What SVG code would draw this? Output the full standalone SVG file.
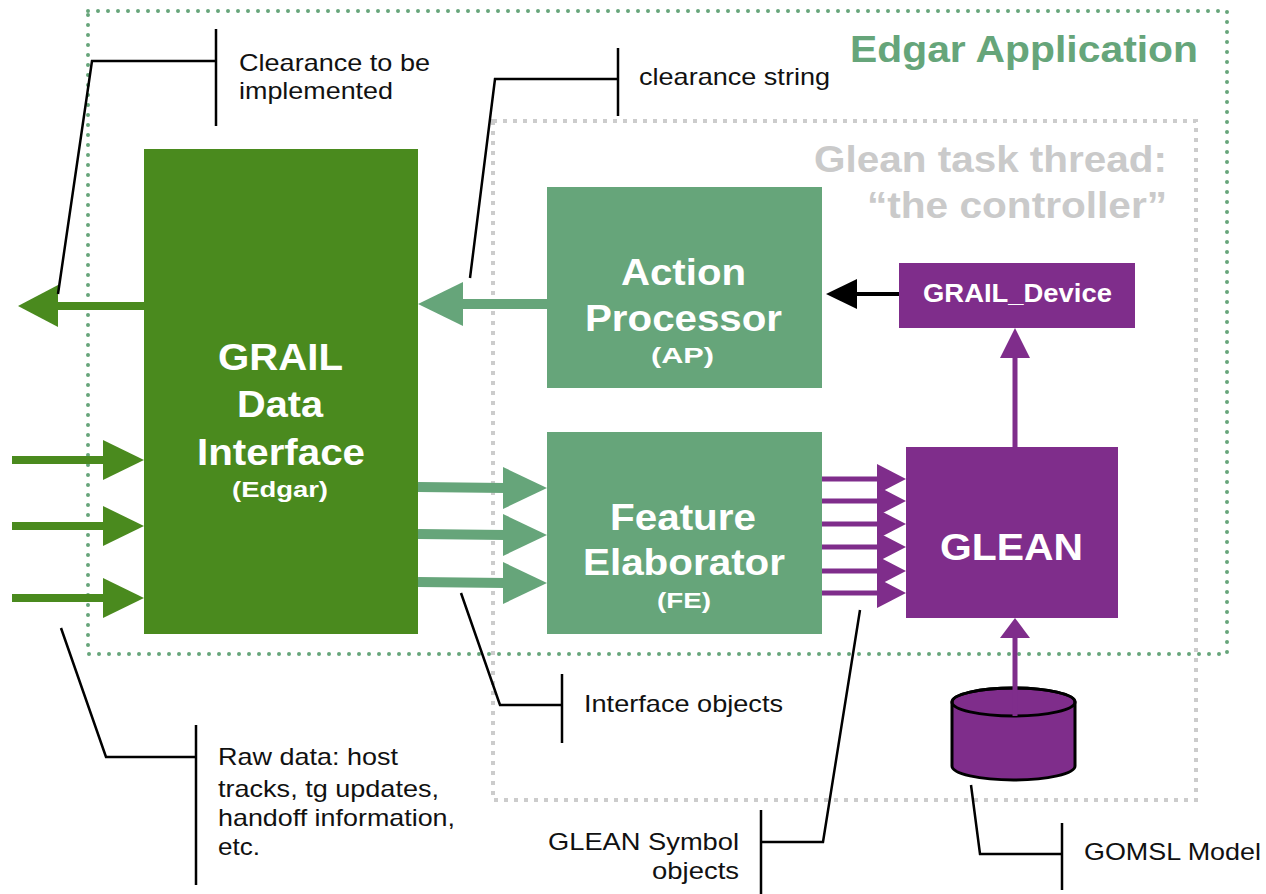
<svg xmlns="http://www.w3.org/2000/svg" width="1266" height="894" viewBox="0 0 1266 894">
  <style>
    .bg { fill: #ffffff; }
    .dg { fill: #4a8a1e; }
    .lg { fill: #66a57a; }
    .pu { fill: #7f2d8b; }
    .dgl { stroke: #4a8a1e; stroke-width: 8; fill: none; }
    .lgl { stroke: #66a57a; stroke-width: 10; fill: none; }
    .pul { stroke: #7f2d8b; stroke-width: 5; fill: none; }
    .bkl { stroke: #000000; stroke-width: 4; fill: none; }
    .co { stroke: #000000; stroke-width: 2.5; fill: none; stroke-linejoin: miter; }
    .frame-app { fill: none; stroke: #66a57a; stroke-width: 4; stroke-dasharray: 0 10; stroke-linecap: round; }
    .frame-task { fill: none; stroke: #cccccc; stroke-width: 4; stroke-dasharray: 4 6; }
    .big { font-family: "Liberation Sans", Arial, sans-serif; font-weight: bold; font-size: 37px; fill: #ffffff; }
    .sub { font-family: "Liberation Sans", Arial, sans-serif; font-weight: bold; font-size: 22px; fill: #ffffff; }
    .lbl { font-family: "Liberation Sans", Arial, sans-serif; font-size: 24px; fill: #111111; }
    .title-app { font-family: "Liberation Sans", Arial, sans-serif; font-weight: bold; font-size: 37px; fill: #66a57a; }
    .title-task { font-family: "Liberation Sans", Arial, sans-serif; font-weight: bold; font-size: 37px; fill: #cacaca; }
  </style>

  <rect class="bg" x="0" y="0" width="1266" height="894"/>

  <!-- frames -->
  <g id="edgar-application">
    <rect class="frame-app" x="88" y="11" width="1139" height="643"/>
    <text class="title-app" x="850" y="62" textLength="348" lengthAdjust="spacingAndGlyphs">Edgar Application</text>
  </g>
  <g id="glean-task-thread">
    <rect class="frame-task" x="493" y="121" width="703" height="679"/>
    <text class="title-task" x="814" y="172" textLength="353" lengthAdjust="spacingAndGlyphs">Glean task thread:</text>
    <text class="title-task" x="867" y="218" textLength="300" lengthAdjust="spacingAndGlyphs">“the controller”</text>
  </g>

  <!-- connectors -->
  <g id="connectors">
    <!-- raw data inputs -->
    <line class="dgl" x1="12" y1="460" x2="106" y2="460"/>
    <polygon class="dg" points="103,440 144,460 103,480"/>
    <line class="dgl" x1="12" y1="526" x2="106" y2="526"/>
    <polygon class="dg" points="103,506 144,526 103,546"/>
    <line class="dgl" x1="12" y1="598" x2="106" y2="598"/>
    <polygon class="dg" points="103,578 144,598 103,618"/>

    <!-- clearance output -->
    <line class="dgl" x1="144" y1="306" x2="55" y2="306"/>
    <polygon class="dg" points="58,285 18,306 58,327"/>

    <!-- AP to GRAIL Data Interface -->
    <line class="lgl" x1="547" y1="304" x2="460" y2="304"/>
    <polygon class="lg" points="463,282 418,304 463,326"/>

    <!-- GRAIL Data Interface to FE -->
    <line class="lgl" x1="418" y1="487" x2="506" y2="488"/>
    <polygon class="lg" points="503,467 547,488 503,509"/>
    <line class="lgl" x1="418" y1="534" x2="506" y2="535"/>
    <polygon class="lg" points="503,514 547,535 503,556"/>
    <line class="lgl" x1="418" y1="582" x2="506" y2="583"/>
    <polygon class="lg" points="503,562 547,583 503,604"/>

    <!-- FE to GLEAN symbol objects -->
    <line class="pul" x1="822" y1="479" x2="880" y2="479"/>
    <polygon class="pu" points="877,464 906,479 877,494"/>
    <line class="pul" x1="822" y1="501" x2="880" y2="501"/>
    <polygon class="pu" points="877,486 906,501 877,516"/>
    <line class="pul" x1="822" y1="524" x2="880" y2="524"/>
    <polygon class="pu" points="877,509 906,524 877,539"/>
    <line class="pul" x1="822" y1="547" x2="880" y2="547"/>
    <polygon class="pu" points="877,532 906,547 877,562"/>
    <line class="pul" x1="822" y1="571" x2="880" y2="571"/>
    <polygon class="pu" points="877,556 906,571 877,586"/>
    <line class="pul" x1="822" y1="593" x2="880" y2="593"/>
    <polygon class="pu" points="877,578 906,593 877,608"/>

    <!-- GLEAN to GRAIL_Device -->
    <line class="pul" x1="1015" y1="447" x2="1015" y2="355"/>
    <polygon class="pu" points="1000,358 1015,328 1030,358"/>

    <!-- GRAIL_Device to AP -->
    <line class="bkl" x1="899" y1="294" x2="852" y2="294"/>
    <polygon fill="#000000" points="857,279 826,294 857,309"/>

    <!-- callouts -->
    <path class="co" d="M58,294 L92,61 L216,61 M216,29 L216,126"/>
    <path class="co" d="M470,278 L495,79 L618,79 M618,48 L618,116"/>
    <path class="co" d="M61,628 L106,757 L196,757 M196,725 L196,885"/>
    <path class="co" d="M461,593 L500,705 L562,705 M562,674 L562,743"/>
    <path class="co" d="M860,610 L823,842 L761,842 M761,810 L761,894"/>
    <path class="co" d="M971,785 L980,854 L1062,854 M1062,823 L1062,890"/>
  </g>

  <!-- nodes -->
  <g id="grail-data-interface">
    <rect class="dg" x="144" y="149" width="274" height="485"/>
    <text class="big" x="218" y="370" textLength="125" lengthAdjust="spacingAndGlyphs">GRAIL</text>
    <text class="big" x="237" y="417" textLength="86" lengthAdjust="spacingAndGlyphs">Data</text>
    <text class="big" x="197" y="465" textLength="168" lengthAdjust="spacingAndGlyphs">Interface</text>
    <text class="sub" x="232" y="497" textLength="96" lengthAdjust="spacingAndGlyphs">(Edgar)</text>
  </g>

  <g id="action-processor">
    <rect class="lg" x="547" y="187" width="275" height="201"/>
    <text class="big" x="621" y="285" textLength="125" lengthAdjust="spacingAndGlyphs">Action</text>
    <text class="big" x="585" y="331" textLength="197" lengthAdjust="spacingAndGlyphs">Processor</text>
    <text class="sub" x="651" y="363" textLength="63" lengthAdjust="spacingAndGlyphs">(AP)</text>
  </g>

  <g id="feature-elaborator">
    <rect class="lg" x="547" y="432" width="275" height="202"/>
    <text class="big" x="610" y="530" textLength="146" lengthAdjust="spacingAndGlyphs">Feature</text>
    <text class="big" x="583" y="575" textLength="202" lengthAdjust="spacingAndGlyphs">Elaborator</text>
    <text class="sub" x="657" y="608" textLength="54" lengthAdjust="spacingAndGlyphs">(FE)</text>
  </g>

  <g id="grail-device">
    <rect class="pu" x="899" y="263" width="236" height="65"/>
    <text class="big" style="font-size:25px" x="923" y="302" textLength="189" lengthAdjust="spacingAndGlyphs">GRAIL_Device</text>
  </g>

  <g id="glean">
    <rect class="pu" x="906" y="447" width="212" height="171"/>
    <text class="big" x="940" y="560" textLength="143" lengthAdjust="spacingAndGlyphs">GLEAN</text>
  </g>

  <g id="gomsl-model">
    <path class="pu" stroke="#000000" stroke-width="3" d="M952,702 L952,766 A61.5,14 0 0 0 1075,766 L1075,702 A61.5,14 0 0 0 952,702 Z"/>
    <ellipse cx="1013.5" cy="702" rx="61.5" ry="14" fill="none" stroke="#000000" stroke-width="3"/>
    <!-- feed into GLEAN -->
    <line class="pul" x1="1015" y1="716" x2="1015" y2="636"/>
    <polygon class="pu" points="1000,638 1015,618 1030,638"/>
  </g>

  <!-- callout labels -->
  <g id="labels">
    <text class="lbl" x="239" y="71" textLength="191" lengthAdjust="spacingAndGlyphs">Clearance to be</text>
    <text class="lbl" x="239" y="99" textLength="154" lengthAdjust="spacingAndGlyphs">implemented</text>
    <text class="lbl" x="639" y="85" textLength="191" lengthAdjust="spacingAndGlyphs">clearance string</text>
    <text class="lbl" x="584" y="712" textLength="199" lengthAdjust="spacingAndGlyphs">Interface objects</text>
    <text class="lbl" x="218" y="765" textLength="180" lengthAdjust="spacingAndGlyphs">Raw data: host</text>
    <text class="lbl" x="218" y="797" textLength="221" lengthAdjust="spacingAndGlyphs">tracks, tg updates,</text>
    <text class="lbl" x="218" y="826" textLength="237" lengthAdjust="spacingAndGlyphs">handoff information,</text>
    <text class="lbl" x="218" y="855" textLength="42" lengthAdjust="spacingAndGlyphs">etc.</text>
    <text class="lbl" x="548" y="850" textLength="191" lengthAdjust="spacingAndGlyphs">GLEAN Symbol</text>
    <text class="lbl" x="652" y="879" textLength="87" lengthAdjust="spacingAndGlyphs">objects</text>
    <text class="lbl" x="1084" y="860" textLength="177" lengthAdjust="spacingAndGlyphs">GOMSL Model</text>
  </g>
</svg>
